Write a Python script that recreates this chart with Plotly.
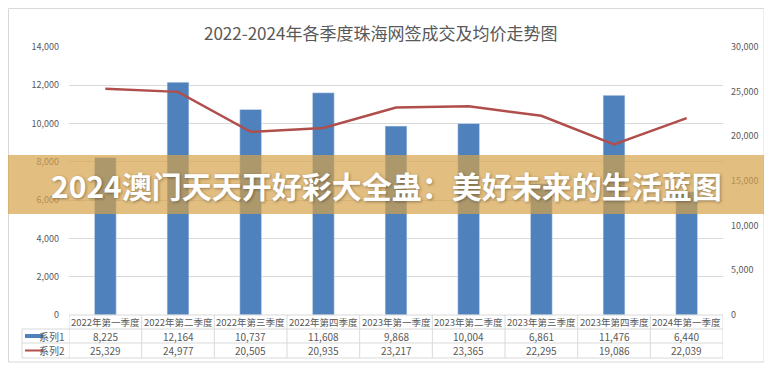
import plotly.graph_objects as go

categories = ["2022年第一季度", "2022年第二季度", "2022年第三季度", "2022年第四季度",
              "2023年第一季度", "2023年第二季度", "2023年第三季度", "2023年第四季度",
              "2024年第一季度"]
series1 = [8225, 12164, 10737, 11608, 9868, 10004, 6861, 11476, 6440]
series2 = [25329, 24977, 20505, 20935, 23217, 23365, 22295, 19086, 22039]
series_names = ["系列1", "系列2"]
left_ticks = [0, 2000, 4000, 6000, 8000, 10000, 12000, 14000]
right_ticks = [0, 5000, 10000, 15000, 20000, 25000, 30000]

# page body margin offset (figure is drawn at 8px,8px in the page)
OFF = 8
SW, SH = 772, 370               # screen size
W, H = SW - OFF, SH - OFF       # figure size
L, R, T, B = 69, 723, 47, 315   # plot area in screen coords
PW, PH = R - L, B - T

def xp(px):
    return (px - L) / PW

def yp(py):
    return (B - py) / PH

BLUE = "#4F81BD"
RED = "#B04E4C"
GRID = "#D9D9D9"
TXT = "#595959"
FONT = "Noto Sans CJK SC"

xs = list(range(len(categories)))

fig = go.Figure()
fig.add_trace(go.Bar(x=xs, y=series1, name=series_names[0], marker_color=BLUE,
                     width=0.3, yaxis="y"))
fig.add_trace(go.Scatter(x=xs, y=series2, name=series_names[1], mode="lines",
                         line=dict(color=RED, width=2.5), yaxis="y2"))

shapes = []
annotations = []

# outer border
shapes.append(dict(type="rect", xref="paper", yref="paper", x0=xp(OFF + 0.5), x1=xp(764),
                   y0=yp(OFF + 0.5), y1=yp(362), line=dict(color=GRID, width=1), layer="below"))

# data table lines
tl = dict(color=GRID, width=1)
for py, x0 in [(315, 69), (329, 22), (343, 22), (358, 22)]:
    shapes.append(dict(type="line", xref="paper", yref="paper", x0=xp(x0), x1=1,
                       y0=yp(py), y1=yp(py), line=tl))
shapes.append(dict(type="line", xref="paper", yref="paper", x0=xp(22), x1=xp(22),
                   y0=yp(329), y1=yp(358), line=tl))
for i in range(len(categories) + 1):
    shapes.append(dict(type="line", xref="x", yref="paper", x0=i - 0.5, x1=i - 0.5,
                       y0=yp(315), y1=yp(358), line=tl))

# legend keys in table
shapes.append(dict(type="rect", xref="paper", yref="paper", x0=xp(25), x1=xp(43),
                   y0=yp(338), y1=yp(334), fillcolor=BLUE, line=dict(width=0)))
shapes.append(dict(type="line", xref="paper", yref="paper", x0=xp(25), x1=xp(43),
                   y0=yp(350.5), y1=yp(350.5), line=dict(color=RED, width=2)))

cell_font = dict(family=FONT, size=10, color=TXT)
for i, c in enumerate(categories):
    annotations.append(dict(x=i, y=yp(322), xref="x", yref="paper", text=c,
                            showarrow=False, font=dict(family=FONT, size=9.5, color=TXT),
                            xanchor="center", yanchor="middle"))
    annotations.append(dict(x=i, y=yp(336), xref="x", yref="paper", text=f"{series1[i]:,}",
                            showarrow=False, font=cell_font, xanchor="center", yanchor="middle"))
    annotations.append(dict(x=i, y=yp(350.5), xref="x", yref="paper", text=f"{series2[i]:,}",
                            showarrow=False, font=cell_font, xanchor="center", yanchor="middle"))
for name, py in zip(series_names, [336, 350.5]):
    annotations.append(dict(x=xp(67), y=yp(py), xref="paper", yref="paper", text=name,
                            showarrow=False, font=cell_font, xanchor="right", yanchor="middle"))

# title
annotations.append(dict(x=xp(380), y=yp(33), xref="paper", yref="paper",
                        text="2022-2024年各季度珠海网签成交及均价走势图", showarrow=False,
                        font=dict(family=FONT, size=17, color=TXT),
                        xanchor="center", yanchor="middle"))

# overlay banner
shapes.append(dict(type="rect", xref="paper", yref="paper", x0=xp(0), x1=xp(780),
                   y0=yp(214), y1=yp(155), fillcolor="rgba(213,162,74,0.7)",
                   line=dict(width=0), layer="above"))
annotations.append(dict(x=xp(386), y=yp(185), xref="paper", yref="paper",
                        text="<b>2024澳门天天开好彩大全蛊：美好未来的生活蓝图</b>", showarrow=False,
                        font=dict(family=FONT, size=30, color="white",
                                  shadow="1px 1px 3px rgba(0,0,0,0.35)"),
                        xanchor="center", yanchor="middle"))

fig.update_layout(
    width=W, height=H,
    margin=dict(l=L - OFF, r=SW - R, t=T - OFF, b=SH - B, pad=0),
    paper_bgcolor="white", plot_bgcolor="white",
    showlegend=False,
    xaxis=dict(range=[-0.5, len(categories) - 0.5], showticklabels=False, showgrid=False,
               zeroline=False, showline=False, ticks="", fixedrange=True),
    yaxis=dict(range=[0, 14000], tickvals=left_ticks, tickformat=",d", showgrid=True,
               gridcolor=GRID, gridwidth=1, zeroline=False, showline=False, ticks="",
               tickfont=dict(family=FONT, size=9, color=TXT), ticklabelstandoff=9),
    yaxis2=dict(range=[0, 30000], tickvals=right_ticks, tickformat=",d", overlaying="y",
                side="right", showgrid=False, zeroline=False, showline=False, ticks="",
                tickfont=dict(family=FONT, size=9, color=TXT), ticklabelstandoff=7),
    shapes=shapes,
    annotations=annotations,
)

fig.write_html("out.html")
